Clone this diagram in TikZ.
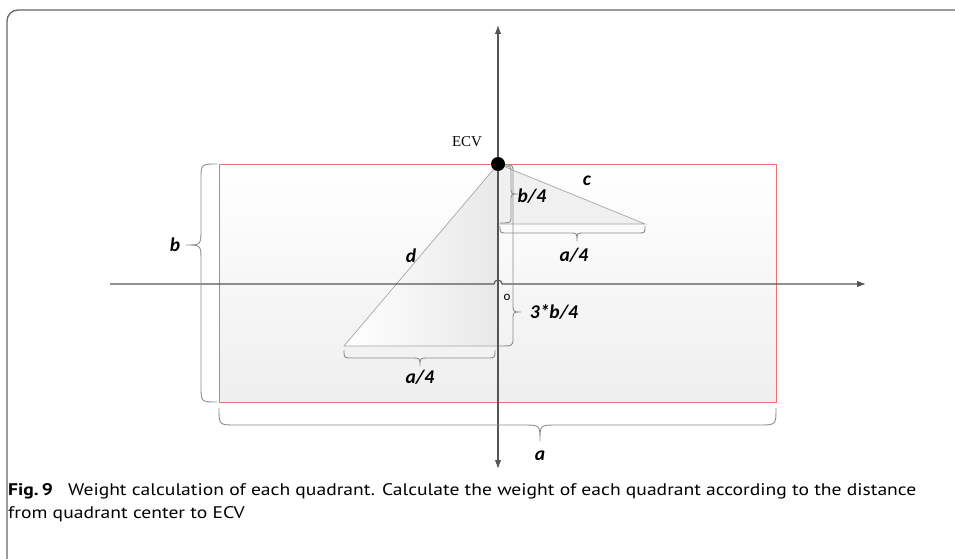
\documentclass[tikz,border=0pt]{standalone}
\usepackage{fontspec}
\setmainfont{PT Sans}
\newfontfamily\lblfont{Carlito}
\newfontfamily\ecvfont{Liberation Serif}
\usetikzlibrary{arrows.meta}
\definecolor{axisgray}{HTML}{555555}
\definecolor{bracegray}{HTML}{8C8C8C}
\definecolor{rectred}{HTML}{F07070}
\definecolor{framegray}{HTML}{666666}
\tikzset{
  axis/.style={draw=axisgray, line width=1.1pt, -{Latex[length=9pt,width=6.5pt]}},
  bracepath/.style={draw=bracegray, line width=0.9pt},
  tri/.style={draw=gray!70, line width=0.7pt},
  lbl/.style={font=\lblfont\bfseries\itshape\fontsize{19.5}{22}\selectfont, inner sep=0pt},
  captext/.style={anchor=base west, inner sep=0pt, font=\fontsize{16.8}{19}\selectfont}
}
\begin{document}
\begin{tikzpicture}[x=1pt,y=-1pt]
\useasboundingbox (0,0) rectangle (955,559);
% frame
\draw[framegray, line width=1.3pt, rounded corners=11pt] (7,559) -- (7,10) -- (955,10);
% rectangle
\shade[top color=white, bottom color=gray!13] (219,164) rectangle (776,402);
\draw[rectred, line width=0.9pt] (219,164) rectangle (776,402);
% triangles
\shade[left color=white, right color=gray!18] (498,164) -- (344,346) -- (498,346) -- cycle;
\draw[tri] (498,164) -- (344,346) -- (498,346);
\fill[gray!12] (498,164) -- (645,224) -- (498,224) -- cycle;
\draw[tri] (498,164) -- (645,224) -- (498,224);
% axes
\coordinate (hl) at (110,284);
\coordinate (hr) at (866,284);
\coordinate (vt) at (498,25);
\coordinate (vb) at (498,469);
\draw[axis] (hl) -- (494,284) arc[start angle=180, end angle=360, radius=4] -- (hr);
\draw[axis] (498,164) -- (vt);
\draw[axis] (498,164) -- (vb);
% braces
\draw[bracepath] (217,164) .. controls (201,164) .. (201,180) -- (201,229) .. controls (201,245) .. (186,245) .. controls (201,245) .. (201,261) -- (201,386) .. controls (201,402) .. (217,402);
\draw[bracepath] (219,408) .. controls (219,425) .. (236,425) -- (523,425) .. controls (540,425) .. (540,441) .. controls (540,425) .. (557,425) -- (759,425) .. controls (776,425) .. (776,408);
\draw[bracepath] (500,226) .. controls (500,233) .. (507,233) -- (570,233) .. controls (577,233) .. (577,241) .. controls (577,233) .. (584,233) -- (638,233) .. controls (645,233) .. (645,226);
\draw[bracepath] (344,350) .. controls (344,358) .. (352,358) -- (412,358) .. controls (420,358) .. (420,366) .. controls (420,358) .. (428,358) -- (487,358) .. controls (495,358) .. (495,350);
\draw[bracepath] (503,166) .. controls (511,166) .. (511,173) -- (511,187) .. controls (511,194) .. (518,194) .. controls (511,194) .. (511,201) -- (511,216) .. controls (511,223) .. (500,223);
\draw[bracepath] (505,165) .. controls (513,165) .. (513,173) -- (513,304) .. controls (513,312) .. (521,312) .. controls (513,312) .. (513,320) -- (513,338) .. controls (513,346) .. (499,346);
% ECV point
\fill[black] (498,164) circle[radius=7];
\node[font=\ecvfont\fontsize{15}{17}\selectfont, inner sep=0pt] (ecv) at (467,142) {ECV};
% labels
\node[lbl] (lb) at (175,245) {b};
\node[lbl] (la) at (540,456) {a};
\node[lbl] (lc) at (587,181) {c};
\node[lbl] (ld) at (411,256) {d};
\node[lbl] (lb4) at (532,196) {b/4};
\node[lbl] (la4u) at (574,255) {a/4};
\node[lbl] (la4l) at (420,377) {a/4};
\node[lbl] (l3b4) at (554,312) {3*b/4};
\node[font=\lblfont\fontsize{13}{15}\selectfont, inner sep=0pt] (lo) at (507,297) {o};
% caption
\node[captext] (cap1) at (8,495) {\scalebox{1.166}[1]{\textbf{Fig.\,9}\hspace{0.5em} Weight calculation of each quadrant. Calculate the weight of each quadrant according to the distance}};
\node[captext] (cap2) at (8,518) {\scalebox{1.166}[1]{from quadrant center to ECV}};
\end{tikzpicture}
\end{document}
